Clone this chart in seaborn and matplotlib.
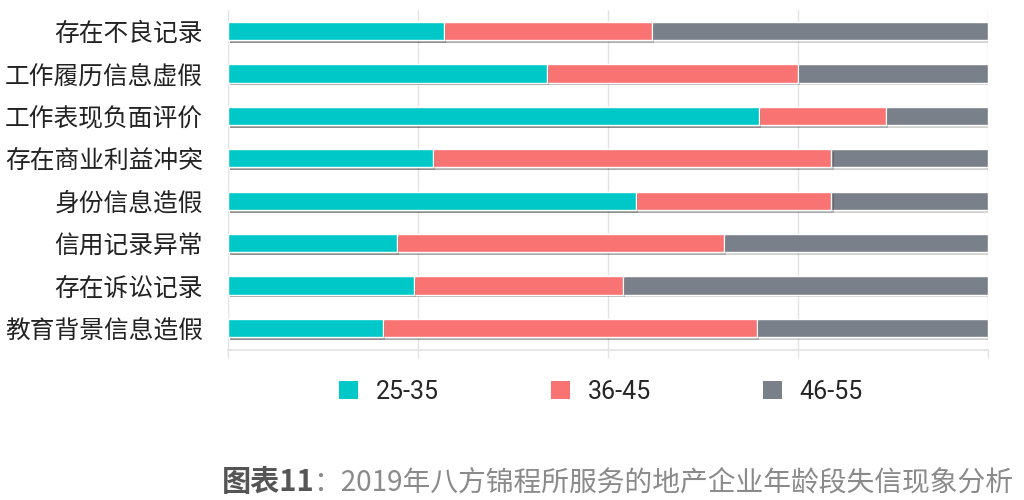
import matplotlib
matplotlib.use("Agg")
import matplotlib.pyplot as plt
import matplotlib.patheffects as pe
from matplotlib.patches import Patch
import seaborn as sns
import numpy as np
import pandas as pd

# share of each age group (%)
categories = ["存在不良记录", "工作履历信息虚假", "工作表现负面评价", "存在商业利益冲突",
              "身份信息造假", "信用记录异常", "存在诉讼记录", "教育背景信息造假"]
age_25_35 = [28.4, 42.0, 69.9, 27.0, 53.7, 22.2, 24.5, 20.4]
age_36_45 = [27.4, 33.0, 16.7, 52.4, 25.7, 43.0, 27.5, 49.2]
age_46_55 = [44.2, 25.0, 13.4, 20.6, 20.6, 34.8, 48.0, 30.4]
groups = ["25-35", "36-45", "46-55"]
colors = ["#00C8C8", "#FA7373", "#7A808A"]

sns.set_theme(style="white")
plt.rcParams["font.family"] = ["Noto Sans CJK SC", "DejaVu Sans"]

df = pd.DataFrame({"category": categories, "a": age_25_35, "b": age_36_45, "c": age_46_55})
df["cum1"] = df["a"]
df["cum2"] = df["a"] + df["b"]
df["cum3"] = df["a"] + df["b"] + df["c"]

fig = plt.figure(figsize=(10.24, 5), dpi=100)
ax = fig.add_axes([228 / 1024, 0.30, 760 / 1024, 0.68])

shadow = [pe.SimplePatchShadow(offset=(1.5, -2), alpha=0.18, shadow_rgbFace="black"), pe.Normal()]
for col, color in zip(["cum3", "cum2", "cum1"], colors[::-1]):
    sns.barplot(data=df, x=col, y="category", color=color, orient="h", width=0.43,
                saturation=1, edgecolor="white", linewidth=1.0, ax=ax)
for bar in ax.patches:
    bar.set_path_effects(shadow)

ax.set_xlim(0, 100)
ax.set_ylim(7.52, -0.5)
ax.set_xticks([0, 25, 50, 75, 100])
ax.set_xticklabels([])
ax.xaxis.grid(True, color="#E3E3E3", linewidth=1)
ax.set_axisbelow(True)
ax.tick_params(axis="x", length=6, color="#E3E3E3", width=1, bottom=True)
ax.tick_params(axis="y", length=0, labelsize=17.8, labelcolor="#222222", pad=18)
ax.set_xlabel("")
ax.set_ylabel("")
for s in ["top", "right", "left"]:
    ax.spines[s].set_visible(False)
ax.spines["bottom"].set_color("#E3E3E3")

handles = [Patch(facecolor=c, edgecolor="none") for c in colors]
fig.legend(handles, groups, loc="center", bbox_to_anchor=(0.587, 0.216), ncol=3,
           frameon=False, handlelength=0.75, handleheight=0.75,
           handletextpad=0.7, columnspacing=4.5,
           prop={"family": ["Roboto", "DejaVu Sans"], "size": 18})

fig.text(222 / 1024, 0.035, "图表11", fontsize=21, fontweight="bold", color="#555555",
         ha="left", va="center")
fig.text(313 / 1024, 0.035, "：2019年八方锦程所服务的地产企业年龄段失信现象分析", fontsize=20,
         fontweight="light", color="#8A8A8A", ha="left", va="center")

fig.savefig("out.png", dpi=100)
